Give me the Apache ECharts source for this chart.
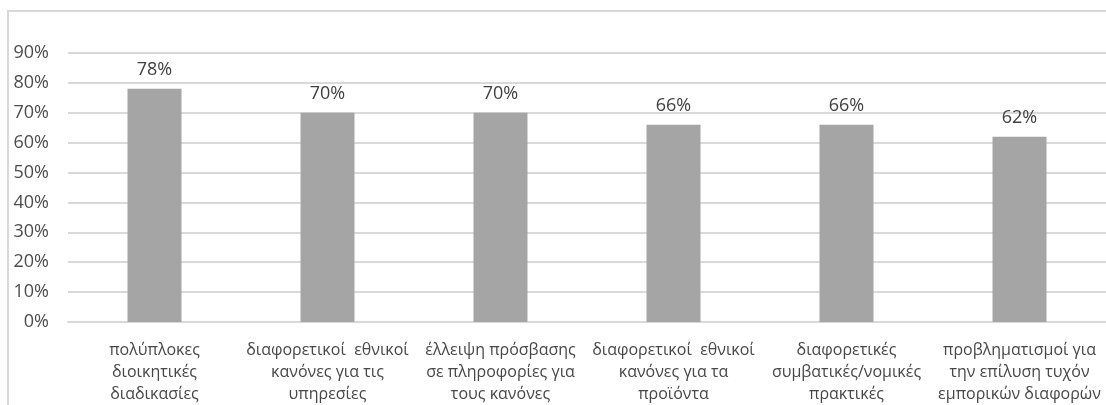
<!DOCTYPE html>
<html><head><meta charset="utf-8">
<script src="https://cdn.jsdelivr.net/npm/echarts@6/dist/echarts.min.js"></script>
<style>html,body{margin:0;padding:0;background:#fff}#c{width:1106px;height:405px}</style>
</head><body><div id="c"></div>
<script>
const categories = [
  "πολύπλοκες\nδιοικητικές\nδιαδικασίες",
  "διαφορετικοί  εθνικοί\nκανόνες για τις\nυπηρεσίες",
  "έλλειψη πρόσβασης\nσε πληροφορίες για\nτους κανόνες",
  "διαφορετικοί  εθνικοί\nκανόνες για τα\nπροϊόντα",
  "διαφορετικές\nσυμβατικές/νομικές\nπρακτικές",
  "προβληματισμοί για\nτην επίλυση τυχόν\nεμπορικών διαφορών"
];
const values = [78, 70, 70, 66, 66, 62];
const yTicks = [0, 10, 20, 30, 40, 50, 60, 70, 80, 90];

const chart = echarts.init(document.getElementById('c'));
chart.setOption({
  animation: false,
  backgroundColor: '#fff',
  textStyle: { fontFamily: 'Open Sans' },
  graphic: [{
    type: 'rect', silent: true,
    shape: { x: 8, y: 11, width: 1200, height: 500 },
    style: { fill: 'none', stroke: '#d9d9d9', lineWidth: 2 }
  }],
  grid: { left: 68, top: 53, bottom: 80, right: -6, containLabel: false },
  xAxis: {
    type: 'category', data: categories,
    axisTick: { show: false },
    axisLine: { lineStyle: { color: '#d9d9d9', width: 2 } },
    axisLabel: { interval: 0, color: '#474747', fontSize: 16, lineHeight: 22, margin: 17 }
  },
  yAxis: {
    type: 'value', min: yTicks[0], max: yTicks[yTicks.length - 1], interval: 10,
    axisLine: { show: false }, axisTick: { show: false },
    splitLine: { lineStyle: { color: '#d9d9d9', width: 2 } },
    axisLabel: { formatter: '{value}%', color: '#4d4d4d', fontSize: 18, margin: 19 }
  },
  series: [{
    type: 'bar', data: values, barWidth: 54,
    itemStyle: { color: '#a5a5a5' },
    label: { show: true, position: 'top', distance: 10, formatter: '{c}%', color: '#404040', fontSize: 18 }
  }]
});
</script></body></html>
